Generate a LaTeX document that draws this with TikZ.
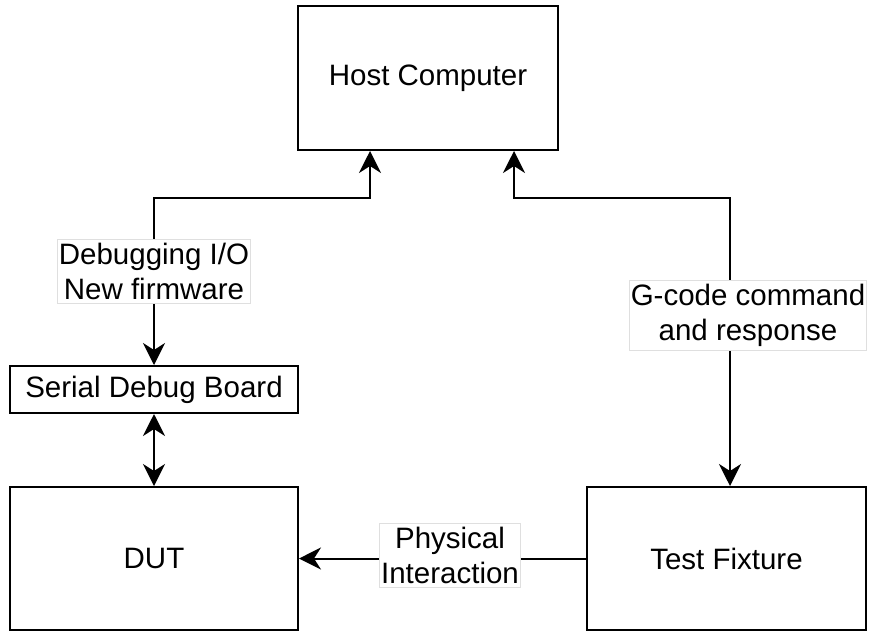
\documentclass[tikz,border=0pt]{standalone}
\usepackage{fontspec}
\setmainfont{Liberation Sans}
\usetikzlibrary{arrows.meta}
\begin{document}
\begin{tikzpicture}[x=1pt,y=-1pt,
  box/.style={draw, line width=2pt, rectangle, inner sep=0pt, align=center, font=\fontsize{29.5}{35}\selectfont},
  lbl/.style={fill=white, draw=gray!25, line width=0.8pt, inner xsep=1.5pt, inner ysep=3.5pt, align=center, font=\fontsize{29.5}{35}\selectfont},
  conn/.style={line width=2pt},
  tip/.tip={Stealth[length=22pt,width=22pt,inset=7pt]}]
\useasboundingbox (0,0) rectangle (869,632);
\node[box, minimum width=260pt, minimum height=144pt] (host) at (428,78) {Host Computer};
\node[box, minimum width=288pt, minimum height=47pt] (serial) at (154,389.5) {Serial Debug Board};
\node[box, minimum width=288pt, minimum height=143pt] (dut) at (154,558.5) {DUT};
\node[box, minimum width=279pt, minimum height=143pt] (tf) at (726.5,558.5) {Test Fixture};
\coordinate (lb) at (370,198);
\coordinate (rb) at (514,198);
\coordinate (rt) at (730,0);
\draw[conn, {tip}-{tip}] (serial.north) |- (lb) -- (host.south -| lb);
\draw[conn, {tip}-{tip}] (tf.north -| rt) |- (rb) -- (host.south -| rb);
\draw[conn, {tip}-{tip}] (serial.south) -- (dut.north);
\draw[conn, -{tip}] (tf.west) -- (dut.east);
\node[lbl] (l1) at (154,271.5) {Debugging I/O\\New firmware};
\node[lbl] (l2) at (748,315.5) {G-code command\\and response};
\node[lbl] (l3) at (450,555.5) {Physical\\Interaction};
\end{tikzpicture}
\end{document}
